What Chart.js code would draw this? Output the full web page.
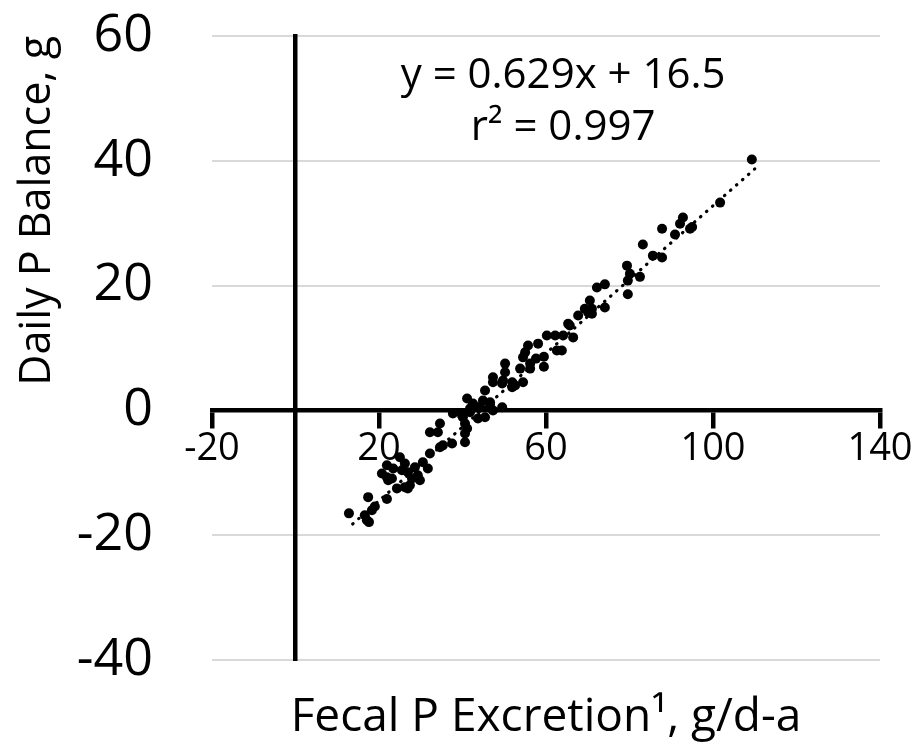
<!DOCTYPE html>
<html><head><meta charset="utf-8">
<script src="https://cdn.jsdelivr.net/npm/chart.js@4"></script>
<style>html,body{margin:0;padding:0;background:#fff}#wrap{width:917px;height:743px}</style>
</head><body><div id="wrap"><canvas id="c" width="917" height="743"></canvas></div>
<script>
// ---- data ----
const fecalP = [12.8,16.6,17.1,17.6,17.4,18.3,19.0,20.7,21.9,22.2,23.1,21.9,24.3,25.0,25.5,26.2,26.9,26.9,27.4,27.9,28.6,29.3,29.8,30.5,31.7,23.4,21.9,26.2,
  34.6,35.3,32.2,34.1,34.6,37.5,40.6,40.6,41.1,40.1,41.1,37.7,39.9,41.8,43.5,42.5,45.4,43.7,45.4,44.9,46.6,49.5,47.3,49.7,51.9,54.5,40.6,41.8,39.9,44.2,46.6,50.2,50.2,47.3,49.5,51.9,52.6,32.2,47.3,
  53.8,56.2,56.2,54.5,55.0,55.7,57.6,59.5,59.5,58.1,60.2,62.2,64.1,62.6,63.8,65.3,65.7,66.5,67.7,69.3,70.1,71.0,70.5,74.1,72.2,74.1,79.4,80.1,82.5,79.6,79.6,83.2,85.6,87.8,87.8,90.9,92.1,92.8,94.5,95.0,101.7,109.3,71.0];
const balanceP = [-16.5,-16.8,-17.6,-17.9,-13.9,-16.0,-15.4,-10.1,-10.7,-11.2,-10.9,-14.2,-12.5,-7.5,-9.6,-8.5,-9.9,-12.5,-12.0,-10.9,-9.1,-10.4,-11.2,-8.3,-9.3,-9.3,-8.8,-12.3,
  -5.9,-5.6,-3.5,-3.5,-2.1,-5.3,-5.1,-3.7,-2.9,-1.1,1.9,-0.5,-0.5,0.3,0.5,1.1,3.2,-1.3,-1.1,1.6,0.8,0.5,4.5,4.8,3.7,4.5,-2.1,-0.3,-0.8,0.5,1.3,7.5,6.1,5.3,4.3,4.5,4.0,-6.9,0.0,
  6.7,7.5,6.7,8.5,9.3,10.4,8.3,8.6,7.0,10.7,12.0,12.0,12.0,9.6,9.6,13.9,13.6,11.7,15.2,16.3,15.7,16.3,17.6,16.5,19.7,20.2,23.2,21.9,21.4,20.8,18.6,26.6,24.8,24.5,29.1,28.2,29.9,30.9,29.1,29.4,33.3,40.2,15.5];
const trendX = [13.7, 110];
const trendY = [-18.2, 38.7];
const xTicks = [-20, 20, 60, 100, 140];
const yTicks = [-40, -20, 0, 20, 40, 60];
const equationLines = ['y = 0.629x + 16.5', 'r\u00B2 = 0.997'];
const eqAnchorX = 64.1;
const eqAnchorY = [53.6, 45.2];
const xTitle = 'Fecal P Excretion\u00B9, g/d-a';
const yTitle = 'Daily P Balance, g';

const FONT = '"Open Sans", "Noto Sans", sans-serif';

const points = fecalP.map((v, i) => ({x: v, y: balanceP[i]}));
const trend = trendX.map((v, i) => ({x: v, y: trendY[i]}));

const eqPlugin = {
  id: 'eq',
  afterDatasetsDraw(chart) {
    const {ctx, scales: {x, y}} = chart;
    ctx.save();
    ctx.font = '42px ' + FONT;
    ctx.fillStyle = '#000';
    ctx.textAlign = 'center';
    ctx.textBaseline = 'middle';
    equationLines.forEach((t, i) => ctx.fillText(t, x.getPixelForValue(eqAnchorX), y.getPixelForValue(eqAnchorY[i])));
    ctx.restore();
  }
};

new Chart(document.getElementById('c'), {
  type: 'scatter',
  data: {
    datasets: [
      {data: trend, showLine: true, borderColor: '#000', borderWidth: 3.2, borderDash: [0.5, 7.5], borderCapStyle: 'round', pointRadius: 0, fill: false, order: 1},
      {data: points, backgroundColor: '#000', borderColor: '#000', pointRadius: 5, pointBorderWidth: 0, order: 2}
    ]
  },
  options: {
    responsive: false,
    animation: false,
    devicePixelRatio: 1,
    layout: {padding: {top: 36, right: 37, bottom: 2, left: 0}},
    plugins: {
      legend: {display: false},
      tooltip: {enabled: false},
      title: {display: true, text: xTitle, position: 'bottom', fullSize: false, align: 'center', color: '#000',
        font: {family: FONT, size: 46, weight: 'normal', lineHeight: 1.0}, padding: {top: 35, bottom: 0}}
    },
    scales: {
      x: {
        type: 'linear', axis: 'x', position: {y: 0}, min: -20, max: 140,
        afterBuildTicks: s => { s.ticks = xTicks.map(v => ({value: v})); },
        grid: {display: true, drawOnChartArea: false, drawTicks: true, tickLength: 16, color: '#000', lineWidth: 4.5},
        border: {display: true, color: '#000', width: 4.5},
        ticks: {color: '#000', padding: 0, maxRotation: 0, font: {family: FONT, size: 38}}
      },
      y: {
        type: 'linear', axis: 'y', position: 'left', min: -40, max: 60,
        afterBuildTicks: s => { s.ticks = yTicks.map(v => ({value: v})); },
        afterFit: s => { s.width = 212; },
        grid: {color: '#d9d9d9', lineWidth: 2, drawTicks: true, tickLength: 59, tickColor: 'rgba(0,0,0,0)'},
        border: {display: false},
        ticks: {color: '#000', padding: 0, font: {family: FONT, size: 52}},
        title: {display: true, text: yTitle, align: 'end', color: '#000', font: {family: FONT, size: 43}, padding: {top: 12, bottom: 0}}
      },
      y2: {
        type: 'linear', axis: 'y', position: {x: 0}, min: -40, max: 60,
        ticks: {display: false},
        grid: {display: false, drawTicks: false},
        border: {display: true, color: '#000', width: 4.5}
      }
    }
  },
  plugins: [eqPlugin]
});
</script></body></html>
